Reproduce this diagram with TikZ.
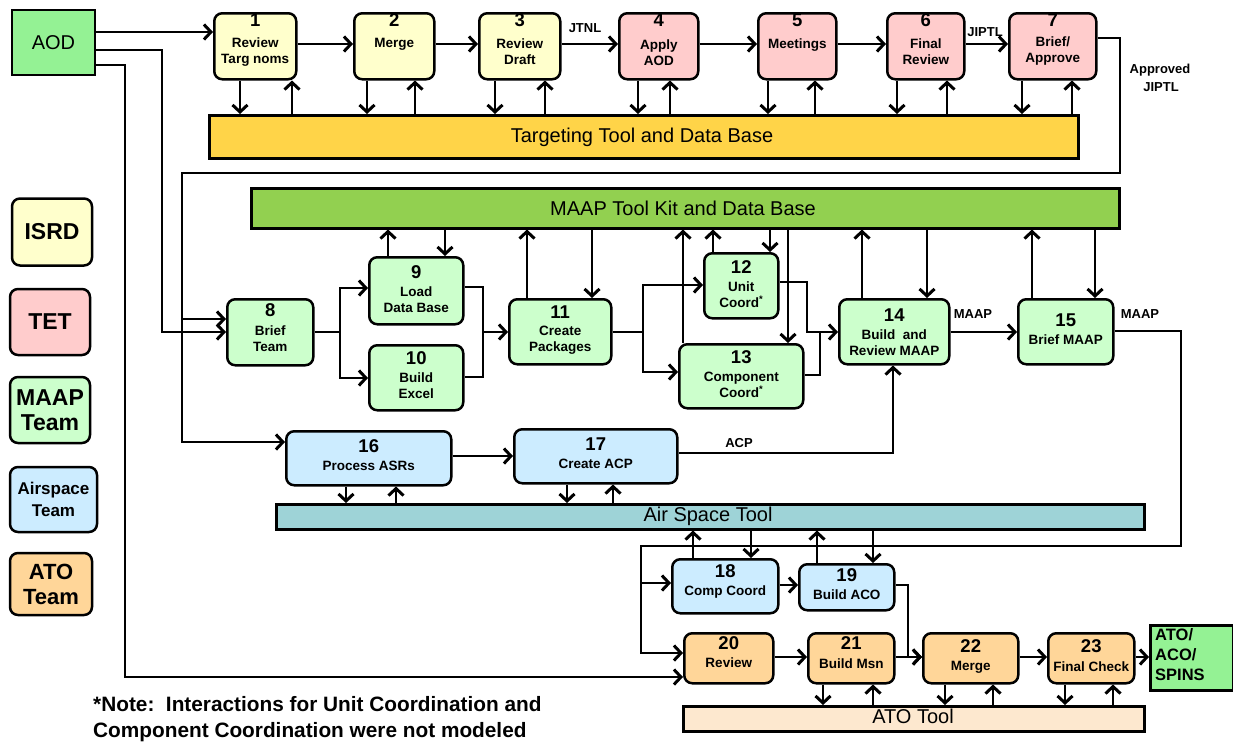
\documentclass[tikz,border=0pt]{standalone}
\usepackage{fontspec}
\setmainfont{Liberation Sans}
\usetikzlibrary{arrows.meta}
\definecolor{cIsrd}{HTML}{FFFFCC}
\definecolor{cTet}{HTML}{FFCCCC}
\definecolor{cMaap}{HTML}{CCFFCC}
\definecolor{cAir}{HTML}{CCECFF}
\definecolor{cAto}{HTML}{FFD699}
\definecolor{cAod}{HTML}{94F294}
\definecolor{cTgtBar}{HTML}{FFD448}
\definecolor{cMaapBar}{HTML}{92D050}
\definecolor{cAirBar}{HTML}{9ED3D7}
\definecolor{cAtoBar}{HTML}{FDE8CF}

% process box: name, fill, x1, y1, x2, y2
\newcommand\pbox[6]{\node[proc,fill=#2,minimum width=#5pt-#3pt,minimum height=#6pt-#4pt,anchor=north west] (#1) at (#3,#4) {};}
% number and caption inside a box: name, number y, number, caption y, caption
\newcommand\ptext[5]{\node[numf] (#1n) at (#1 |- 0,#2) {#3};\node[txtf] (#1t) at (#1 |- 0,#4) {#5};}
% tool bar: name, fill, x1, y1, x2, y2
\newcommand\tbar[6]{\node[bar,fill=#2,minimum width=#5pt-#3pt,minimum height=#6pt-#4pt,anchor=north west] (#1) at (#3,#4) {};}
% vertical links at a given x between an upper node and a lower node
\newcommand\wdn[3]{\draw[arr] (#1,0 |- #2.south) -- (#1,0 |- #3.north);}
\newcommand\wup[3]{\draw[arr] (#1,0 |- #3.north) -- (#1,0 |- #2.south);}

\begin{document}
\begin{tikzpicture}[x=1pt,y=-1pt,
  proc/.style={draw,line width=2.5pt,rounded corners=8pt,inner sep=0pt},
  team/.style={draw,line width=2.5pt,rounded corners=8pt,inner sep=0pt,align=center},
  bar/.style={draw,line width=2.5pt,inner sep=0pt},
  numf/.style={inner sep=0pt,font=\bfseries\fontsize{18.5}{20}\selectfont},
  txtf/.style={inner sep=0pt,align=center,font=\bfseries\fontsize{13.5}{16}\selectfont},
  barf/.style={inner sep=0pt,font=\fontsize{20}{22}\selectfont},
  lbl/.style={inner sep=0pt,align=center,font=\bfseries\fontsize{13}{18}\selectfont},
  tip/.style={-{Straight Barb[length=7pt,width=15pt,line width=3pt]}},
  wire/.style={line width=2.6pt},
  arr/.style={wire,tip},
  thinwire/.style={line width=2pt},
  thinarr/.style={thinwire,tip},
]
\useasboundingbox (0,0) rectangle (1233,742);

% ---------- legend ----------
\node[team,fill=cIsrd,minimum width=80pt,minimum height=67pt,font=\bfseries\fontsize{23}{25}\selectfont] (lgIsrd) at (52,232) {ISRD};
\node[team,fill=cTet,minimum width=80pt,minimum height=66pt,font=\bfseries\fontsize{23}{25}\selectfont] (lgTet) at (50,322) {TET};
\node[team,fill=cMaap,minimum width=80pt,minimum height=66pt,font=\bfseries\fontsize{23}{25}\selectfont] (lgMaap) at (50,410) {MAAP\\Team};
\node[team,fill=cAir,minimum width=87pt,minimum height=65pt,font=\bfseries\fontsize{17}{22}\selectfont] (lgAir) at (53.5,499.5) {Airspace\\Team};
\node[team,fill=cAto,minimum width=82pt,minimum height=62pt,font=\bfseries\fontsize{22}{25}\selectfont] (lgAto) at (51,584) {ATO\\Team};

% ---------- source and product ----------
\node[draw,line width=2.5pt,fill=cAod,minimum width=83pt,minimum height=65pt,inner sep=0pt,font=\fontsize{20}{22}\selectfont] (aod) at (53.5,42.5) {AOD};
\node[draw,line width=2.5pt,fill=cAod,minimum width=83pt,minimum height=65pt,inner sep=0pt,anchor=north west] (prod) at (1149,624) {};
\node[inner sep=0pt,anchor=west,align=left,font=\bfseries\fontsize{16.5}{20}\selectfont] (prodt) at (1155,655) {ATO/\\ACO/\\SPINS};

% ---------- tool bars ----------
\tbar{tt}{cTgtBar}{208}{114}{1077}{157}
\node[barf] (ttt) at (642,137) {Targeting Tool and Data Base};
\tbar{mb}{cMaapBar}{250}{187}{1118}{227}
\node[barf] (mbt) at (683,208) {MAAP Tool Kit and Data Base};
\tbar{ab}{cAirBar}{275}{503}{1143}{528}
\node[barf] (abt) at (708,516) {Air Space Tool};
\tbar{ob}{cAtoBar}{682}{705}{1143}{730}
\node[barf] (obt) at (913,716) {ATO Tool};

% ---------- process steps ----------
\pbox{b1}{cIsrd}{213}{12}{295}{78}   \ptext{b1}{20}{1}{52}{Review\\Targ noms}
\pbox{b2}{cIsrd}{353}{12}{433}{78}   \ptext{b2}{20}{2}{44}{Merge}
\pbox{b3}{cIsrd}{478}{12}{559}{78}   \ptext{b3}{20}{3}{52}{Review\\Draft}
\pbox{b4}{cTet}{618}{12}{697}{78}    \ptext{b4}{20}{4}{53}{Apply\\AOD}
\pbox{b5}{cTet}{757}{12}{835}{78}    \ptext{b5}{20}{5}{45}{Meetings}
\pbox{b6}{cTet}{886}{12}{963}{78}    \ptext{b6}{20}{6}{52}{Final\\Review}
\pbox{b7}{cTet}{1008}{12}{1095}{78}  \ptext{b7}{20}{7}{51}{Brief/\\Approve}

\pbox{b8}{cMaap}{226}{298}{312}{364}  \ptext{b8}{310}{8}{339}{Brief\\Team}
\pbox{b9}{cMaap}{368}{256}{462}{323}  \ptext{b9}{272}{9}{300}{Load\\Data Base}
\pbox{b10}{cMaap}{368}{344}{462}{409} \ptext{b10}{358}{10}{386}{Build\\Excel}
\pbox{b11}{cMaap}{508}{298}{610}{363} \ptext{b11}{312}{11}{340}{Create\\Packages}
\pbox{b12}{cMaap}{703}{252}{777}{317} \ptext{b12}{267}{12}{295}{Unit\\Coord\textsuperscript{*}}
\pbox{b13}{cMaap}{678}{343}{802}{407} \ptext{b13}{357}{13}{385}{Component\\Coord\textsuperscript{*}}
\pbox{b14}{cMaap}{838}{298}{948}{363} \ptext{b14}{315}{14}{343}{Build~~and\\Review MAAP}
\pbox{b15}{cMaap}{1017}{298}{1112}{363} \ptext{b15}{320}{15}{340}{Brief MAAP}

\pbox{b16}{cAir}{285}{430}{450}{484}  \ptext{b16}{446}{16}{466}{Process ASRs}
\pbox{b17}{cAir}{513}{428}{676}{482}  \ptext{b17}{444}{17}{464}{Create ACP}
\pbox{b18}{cAir}{671}{558}{777}{612}  \ptext{b18}{571}{18}{592}{Comp Coord}
\pbox{b19}{cAir}{798}{563}{893}{609}  \ptext{b19}{575}{19}{595}{Build ACO}

\pbox{b20}{cAto}{683}{632}{772}{682}  \ptext{b20}{643}{20}{663}{Review}
\pbox{b21}{cAto}{807}{632}{893}{682}  \ptext{b21}{643}{21}{664}{Build Msn}
\pbox{b22}{cAto}{922}{632}{1017}{682} \ptext{b22}{646}{22}{667}{Merge}
\pbox{b23}{cAto}{1047}{632}{1133}{682} \ptext{b23}{646}{23}{667}{Final Check}

% ---------- flow labels ----------
\node[lbl] (lJtnl) at (585,28) {JTNL};
\node[lbl] (lJiptl) at (985,32) {JIPTL};
\node[lbl] (lAppr) at (1160,78) {Approved\\\,JIPTL};
\node[lbl] (lMaap1) at (973,314) {MAAP};
\node[lbl] (lMaap2) at (1140,314) {MAAP};
\node[lbl] (lAcp) at (739,443) {ACP};
\node[inner sep=0pt,anchor=west,align=left,font=\bfseries\fontsize{20.8}{26}\selectfont] (note) at (93,719)
  {*Note:~~Interactions for Unit Coordination and\\Component Coordination were not modeled};

% ---------- AOD distribution ----------
\draw[thinarr] (aod.east |- 0,32) -- (b1.west |- 0,32);
\draw[arr] (aod.east |- 0,50) -- (162,50) -- (162,332) -- (b8.west |- 0,332);
\draw[arr] (aod.east |- 0,65) -- (125,65) -- (125,677) -- (b20.west |- 0,677);

% ---------- targeting sequence ----------
\draw[arr] (b1.east |- 0,44) -- (b2.west |- 0,44);
\draw[arr] (b2.east |- 0,44) -- (b3.west |- 0,44);
\draw[arr] (b3.east |- 0,44) -- (b4.west |- 0,44);
\draw[arr] (b4.east |- 0,44) -- (b5.west |- 0,44);
\draw[arr] (b5.east |- 0,44) -- (b6.west |- 0,44);
\draw[arr] (b6.east |- 0,44) -- (b7.west |- 0,44);
\wdn{240}{b1}{tt} \wup{292}{b1}{tt}
\wdn{367}{b2}{tt} \wup{415}{b2}{tt}
\wdn{495}{b3}{tt} \wup{545}{b3}{tt}
\wdn{638}{b4}{tt} \wup{670}{b4}{tt}
\wdn{768}{b5}{tt} \wup{815}{b5}{tt}
\wdn{897}{b6}{tt} \wup{947}{b6}{tt}
\wdn{1022}{b7}{tt} \wup{1072}{b7}{tt}

% ---------- approved JIPTL feed ----------
\draw[thinarr] (b7.east |- 0,38) -- (1120,38) -- (1120,173) -- (182,173) -- (182,442) -- (b16.west |- 0,442);
\draw[thinarr] (182,319) -- (b8.west |- 0,319);

% ---------- MAAP sequence ----------
\draw[arr] (b8.east |- 0,332) -- (340,332) -- (340,288) -- (b9.west |- 0,288);
\draw[arr] (340,332) -- (340,378) -- (b10.west |- 0,378);
\draw[wire] (b9.east |- 0,287) -- (483,287) -- (483,377) -- (b10.east |- 0,377);
\draw[arr] (483,332) -- (b11.west |- 0,332);
\draw[arr] (b11.east |- 0,332) -- (643,332) -- (643,285) -- (b12.west |- 0,285);
\draw[arr] (643,332) -- (643,372) -- (b13.west |- 0,372);
\draw[arr] (b12.east |- 0,282) -- (807,282) -- (807,332) -- (b14.west |- 0,332);
\draw[wire] (b13.east |- 0,375) -- (820,375) -- (820,332);
\draw[arr] (b14.east |- 0,332) -- (b15.west |- 0,332);
\wup{388}{mb}{b9}   \wdn{445}{mb}{b9}
\wup{527}{mb}{b11}  \wdn{592}{mb}{b11}
\wup{713}{mb}{b12}  \wdn{770}{mb}{b12}
\wup{683}{mb}{b13}  \wdn{788}{mb}{b13}
\wup{862}{mb}{b14}  \wdn{927}{mb}{b14}
\wup{1032}{mb}{b15} \wdn{1095}{mb}{b15}

% ---------- airspace sequence ----------
\draw[arr] (b16.east |- 0,456) -- (b17.west |- 0,456);
\draw[arr] (b17.east |- 0,453) -- (893,453) -- (893,0 |- b14.south);
\wdn{346}{b16}{ab} \wup{396}{b16}{ab}
\wdn{567}{b17}{ab} \wup{613}{b17}{ab}

% ---------- MAAP feed to airspace and ATO ----------
\draw[thinarr] (b15.east |- 0,331) -- (1181,331) -- (1181,546) -- (641,546) -- (641,653) -- (b20.west |- 0,653);
\draw[thinarr] (641,583) -- (b18.west |- 0,583);
\draw[arr] (b18.east |- 0,585) -- (b19.west |- 0,585);
\draw[arr] (b19.east |- 0,585) -- (908,585) -- (908,657) -- (b22.west |- 0,657);
\wup{693}{ab}{b18} \wdn{751}{ab}{b18}
\wup{817}{ab}{b19} \wdn{873}{ab}{b19}

% ---------- ATO sequence ----------
\draw[arr] (b20.east |- 0,657) -- (b21.west |- 0,657);
\draw[arr] (b21.east |- 0,657) -- (b22.west |- 0,657);
\draw[arr] (b22.east |- 0,657) -- (b23.west |- 0,657);
\draw[arr] (b23.east |- 0,657) -- (prod.west |- 0,657);
\wdn{823}{b21}{ob}  \wup{873}{b21}{ob}
\wdn{945}{b22}{ob}  \wup{993}{b22}{ob}
\wdn{1065}{b23}{ob} \wup{1113}{b23}{ob}
\end{tikzpicture}
\end{document}
